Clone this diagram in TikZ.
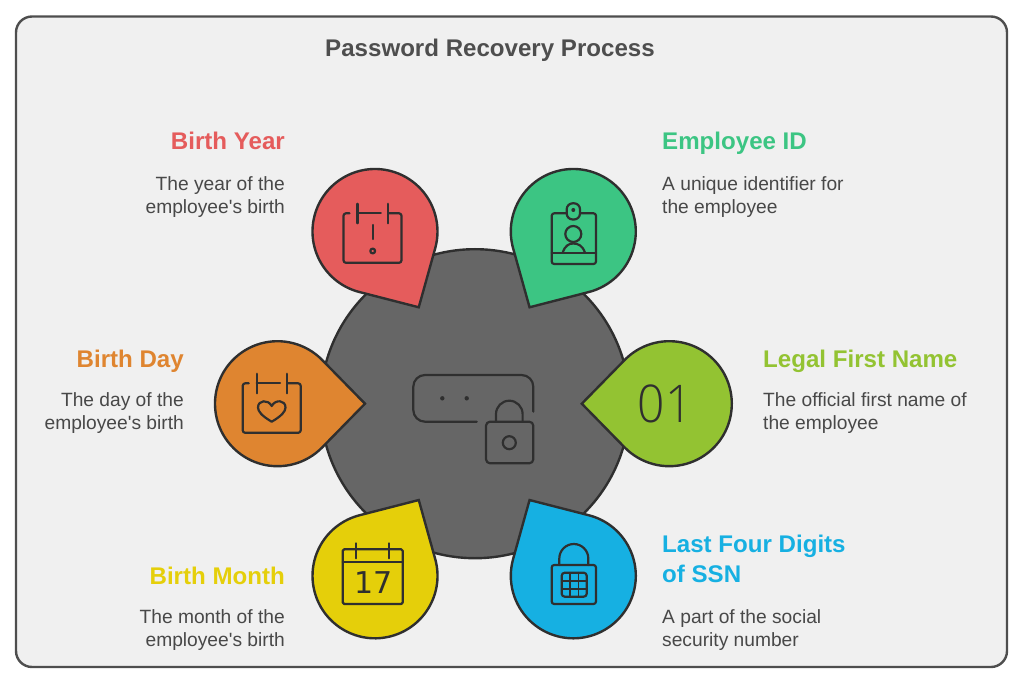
\documentclass[tikz,border=0pt]{standalone}
\usepackage{fontspec}
\setmainfont{Liberation Sans}
\newfontfamily\lightfont[FakeStretch=0.92]{Open Sans Light}
\newfontfamily\dejafont{DejaVu Sans}

\definecolor{framebg}{HTML}{F0F0F0}
\definecolor{inkline}{HTML}{2F2F2F}
\definecolor{hubgrey}{HTML}{666666}
\definecolor{bodytext}{HTML}{484848}
\definecolor{yearred}{HTML}{E55C5C}
\definecolor{idgreen}{HTML}{3CC583}
\definecolor{dayorange}{HTML}{DF8530}
\definecolor{namelime}{HTML}{93C332}
\definecolor{monthyellow}{HTML}{E5CF0A}
\definecolor{ssnblue}{HTML}{16B0E2}

\tikzset{
  petal/.style={draw=inkline, line width=2.4pt, line join=miter},
  icon/.style={draw=inkline, line width=2.2pt, line cap=round, line join=round},
  heading/.style={inner sep=0pt, font=\fontsize{24.1}{28}\selectfont\bfseries},
  bodyleft/.style={inner sep=0pt, anchor=west, align=left, text=bodytext, font=\fontsize{19.2}{23}\selectfont},
  bodyright/.style={inner sep=0pt, anchor=east, align=right, text=bodytext, font=\fontsize{19.2}{23}\selectfont}
}

% teardrop: centre x, centre y, direction of the tip, colour
\newcommand{\petaldrop}[4]{
  \draw[petal, fill=#4] (#1,#2) ++(#3+44.4:62.5)
    arc[start angle=#3+44.4, end angle=#3+315.6, radius=62.5]
    -- ($(#1,#2)+(#3:87.5)$) -- cycle;
}
% calendar with a broken top edge, drawn from its top left corner
\newcommand{\opencal}[2]{
  \begin{scope}[shift={(#1,#2)}]
    \draw[icon, rounded corners=2.5pt] (6,0) -- (0,0) -- (0,49.5) -- (58,49.5) -- (58,0) -- (44.6,0);
    \draw[icon] (14,-9.5) -- (14,10);
    \draw[icon] (44.6,-9.5) -- (44.6,10);
    \draw[icon] (14,0) -- (37.3,0);
  \end{scope}
}
\usetikzlibrary{calc}

\begin{document}
\begin{tikzpicture}[x=1pt,y=-1pt]
\useasboundingbox (0,0) rectangle (1024,684);
\draw[draw=inkline!85, line width=2.4pt, fill=framebg, rounded corners=16pt] (16,16.5) rectangle (1007,667);

\node[heading, anchor=base, text=inkline!85] (title) at (490,57) {Password Recovery Process};

% hub
\draw[petal, fill=hubgrey] (475,403.7) circle (154.5);
\draw[icon] (476.7,421.7) -- (425,421.7) arc[start angle=90, end angle=180, radius=11.7] -- (413.3,386.7) arc[start angle=180, end angle=270, radius=11.7] -- (521.6,375) arc[start angle=270, end angle=360, radius=11.7] -- (533.3,411.7);
\fill[inkline] (442.3,398.3) circle (2.2) (466.7,398.3) circle (2.2);
\draw[icon, rounded corners=4pt] (486,421.7) rectangle (533.3,463.3);
\draw[icon] (496,421.7) -- (496,414) arc[start angle=180, end angle=360, radius=13.3] -- (522.6,421.7);
\draw[icon] (509.3,442.7) circle (6.5);

% petals
\petaldrop{375}{231.5}{60}{yearred}
\petaldrop{573.3}{231.5}{120}{idgreen}
\petaldrop{277.5}{403.7}{0}{dayorange}
\petaldrop{669.3}{403.7}{180}{namelime}
\petaldrop{375}{575.8}{-60}{monthyellow}
\petaldrop{573.3}{575.8}{-120}{ssnblue}

% birth year icon
\opencal{343.5}{213.3}
\draw[icon] (372.7,225) -- (372.7,239);
\draw[icon] (372.7,251) circle (2.4);

% employee id icon
\draw[icon, rounded corners=2.5pt] (551.7,213.3) rectangle (596,264);
\draw[icon] (551.7,253.3) -- (596,253.3);
\draw[icon] (573.3,234) circle (8);
\draw[icon] (562.7,252.7) .. controls (565,245.5) and (569,243.5) .. (573.3,243.5) .. controls (578,243.5) and (582.5,245.5) .. (585,252.7);
\draw[icon, fill=idgreen, rounded corners=6pt] (566.7,219.5) -- (566.7,203.3) -- (580,203.3) -- (580,219.5) -- cycle;
\fill[inkline] (573.3,210) circle (2);

% birth day icon
\opencal{242.7}{383.3}
\draw[icon] (271.7,421.7) .. controls (262,416) and (258,411.5) .. (258,407.5) .. controls (258,400) and (268,399) .. (271.7,406) .. controls (275.5,399) and (285.5,400) .. (285.5,407.5) .. controls (285.5,411.5) and (281.5,416) .. (271.7,421.7) -- cycle;

% legal first name icon
\node[inner sep=0pt, text=inkline, font=\lightfont\fontsize{52}{52}\selectfont] (firstnum) at (665,404) {01};

% birth month icon
\draw[icon, rounded corners=1.5pt] (342.7,549.3) rectangle (402.7,604);
\draw[icon] (342.7,561.7) -- (402.7,561.7);
\draw[icon] (356,543.3) -- (356,558.3);
\draw[icon] (389.3,543.3) -- (389.3,558.3);
\node[inner sep=0pt, text=inkline, font=\dejafont\fontsize{30}{30}\selectfont] (monthnum) at (373.5,582.5) {17};

% ssn icon
\draw[icon, rounded corners=2.5pt] (551.7,565) rectangle (596,604);
\draw[icon] (559.3,565) -- (559.3,558.5) arc[start angle=180, end angle=360, radius=14.5] -- (588.3,565);
\draw[icon, rounded corners=3pt] (561.7,572.7) rectangle (586.7,596.7);
\draw[icon, line width=1.8pt] (570,572.7) -- (570,596.7) (578.4,572.7) -- (578.4,596.7) (561.7,580.7) -- (586.7,580.7) (561.7,588.7) -- (586.7,588.7);

% labels, left column
\node[heading, anchor=base east, text=yearred] (yearhead) at (285,150) {Birth Year};
\node[bodyright] (yeartext) at (285,197) {The year of the\\employee\textquotesingle s birth};
\node[heading, anchor=base east, text=dayorange] (dayhead) at (184,367) {Birth Day};
\node[bodyright] (daytext) at (184,413) {The day of the\\employee\textquotesingle s birth};
\node[heading, anchor=base east, text=monthyellow] (monthhead) at (285,584) {Birth Month};
\node[bodyright] (monthtext) at (285,630) {The month of the\\employee\textquotesingle s birth};

% labels, right column
\node[heading, anchor=base west, text=idgreen] (idhead) at (662,150) {Employee ID};
\node[bodyleft] (idtext) at (662,197) {A unique identifier for\\the employee};
\node[heading, anchor=base west, text=namelime] (namehead) at (763,367) {Legal First Name};
\node[bodyleft] (nametext) at (763,413) {The official first name of\\the employee};
\node[heading, anchor=west, align=left, text=ssnblue, font=\fontsize{24.1}{30.5}\selectfont\bfseries] (ssnhead) at (662,559) {Last Four Digits\\of SSN};
\node[bodyleft] (ssntext) at (662,630) {A part of the social\\security number};
\end{tikzpicture}
\end{document}
